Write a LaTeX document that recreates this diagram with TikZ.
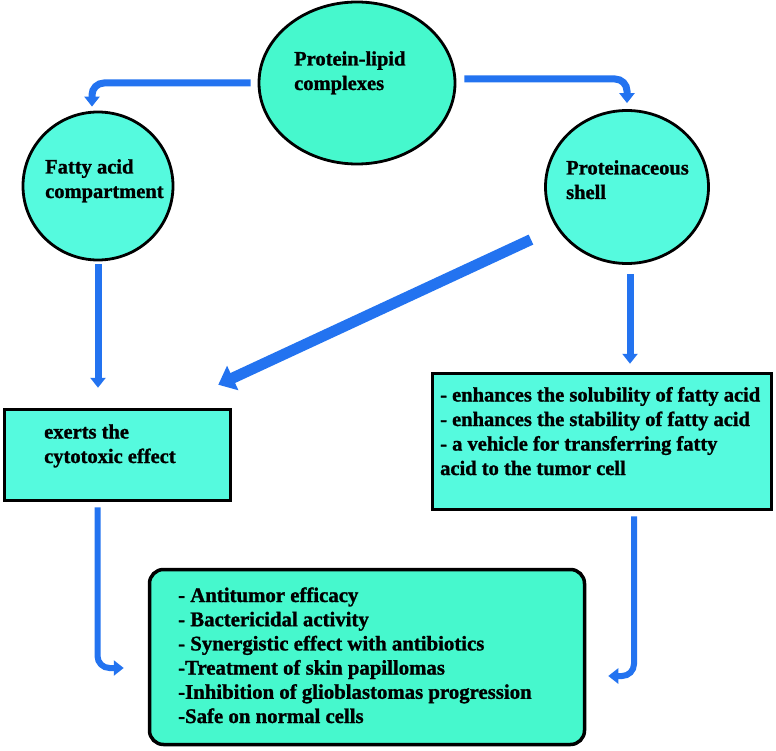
\documentclass[tikz,border=0pt]{standalone}
\usepackage{fontspec}
\setmainfont{Liberation Serif}[BoldFeatures={FakeBold=1.2}]
\usetikzlibrary{positioning,shapes,arrows.meta}
\definecolor{cellfill}{RGB}{85,250,222}
\definecolor{plcfill}{RGB}{70,248,205}
\definecolor{arrowblue}{RGB}{35,115,240}

\begin{document}
\begin{tikzpicture}[x=1pt,y=-1pt,
		txt/.style={anchor=base west,inner sep=0pt,align=left,font=\bfseries\fontsize{20.5}{24.5}\selectfont},
		flow/.style={draw=arrowblue,line width=7pt,-{Triangle[width=15pt,length=10pt]}}]
		\useasboundingbox (0,0) rectangle (776,751);
		\begin{scope}[every node/.style={ellipse,draw,line width=2.8pt}]
			\node[fill=plcfill,minimum width=196pt,minimum height=162pt] (plc) at (357,83) {};
			\node[fill=cellfill,minimum width=150pt,minimum height=148pt] (fac) at (98,186) {};
			\node[fill=cellfill,minimum width=163pt,minimum height=153pt] (psh) at (627,187) {};
		\end{scope}
		\begin{scope}[every node/.style={rectangle,draw,line width=3.5pt}]
			\node[fill=cellfill,minimum width=226pt,minimum height=91pt] (cyto) at (117.5,455) {};
			\node[fill=cellfill,minimum width=339pt,minimum height=136pt] (prop) at (602,441.5) {};
			\node[fill=plcfill,rounded corners=14pt,minimum width=435pt,minimum height=175pt] (eff) at (367,657) {};
		\end{scope}
		\node[txt] (plct) at (294,90) {Protein-lipid\\complexes};
		\node[txt] (fact) at (45,198) {Fatty acid\\compartment};
		\node[txt] (psht) at (566,199) {Proteinaceous\\shell};
		\node[txt] (cytot) at (44,463) {exerts the\\cytotoxic effect};
		\node[txt] (propt) at (440,475) {- enhances the solubility of fatty acid\\- enhances the stability of fatty acid\\- a vehicle for transferring fatty\\acid to the tumor cell};
		\node[txt,font=\bfseries\fontsize{20.8}{24.2}\selectfont] (efft) at (178,723) {- Antitumor efficacy\\- Bactericidal activity\\- Synergistic effect with antibiotics\\-Treatment of skin papillomas\\-Inhibition of glioblastomas progression\\-Safe on normal cells};
		\begin{scope}[every path/.style={flow,rounded corners=12pt}]
			\draw[shorten <=7pt,shorten >=4pt] (plc.west) -| ([xshift=-6pt]fac.north);
			\draw[shorten <=8pt,shorten >=6pt] ([yshift=4pt]plc.east) -| (psh.north);
			\draw[shorten <=3pt,shorten >=20pt] (fac.south) -- (fac.south |- cyto.north);
			\draw[shorten <=9pt,shorten >=8pt] ([xshift=3pt]psh.south) -- ([xshift=3pt]psh.south |- prop.north);
			\draw[line width=11pt,-{Triangle[width=26pt,length=16pt]},shorten <=28pt] (psh.210) -- ([xshift=-14pt,yshift=23pt]cyto.north east);
			\draw[line width=6pt,shorten <=5pt,shorten >=24pt] ([xshift=-20pt]cyto.south) |- ([yshift=-11pt]eff.west);
			\draw[line width=6pt,shorten <=5pt,shorten >=22pt] ([xshift=32pt]prop.south) |- ([yshift=-19pt]eff.east);
		\end{scope}
\end{tikzpicture}
\end{document}
